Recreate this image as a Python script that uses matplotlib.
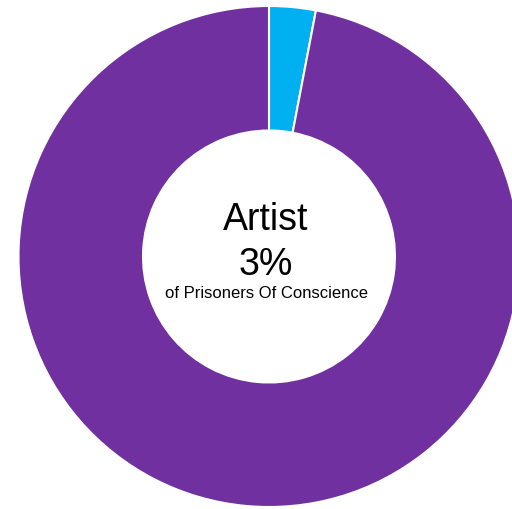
import matplotlib
matplotlib.use("Agg")
import matplotlib.pyplot as plt

# data
labels = ["Artist", "Other"]
values = [3, 97]
colors = ["#00B0F0", "#7030A0"]
title = "Artist"
pct_text = "3%"
subtitle = "of Prisoners Of Conscience"

W, H = 512, 509
cx, cy = 269, 256.5      # centre in pixels (y from top)
r_out, r_in = 250.5, 126

fig = plt.figure(figsize=(W / 100, H / 100), dpi=100)
ax = fig.add_axes([0, 0, 1, 1])

ax.pie(values, colors=colors, startangle=90, counterclock=False,
       radius=r_out,
       wedgeprops=dict(width=r_out - r_in, edgecolor="white", linewidth=1.5))

ax.set_xlim(-cx, W - cx)
ax.set_ylim(-(H - cy), cy)
ax.set_aspect("equal")
ax.axis("off")

font = "Liberation Sans"
ax.text(-3, cy - 230, title, ha="center", va="baseline", fontsize=27, family=font)
ax.text(-3, cy - 275, pct_text, ha="center", va="baseline", fontsize=27, family=font)
ax.text(-2.5, cy - 298, subtitle, ha="center", va="baseline", fontsize=12, family=font)

fig.savefig("out.png", dpi=100)
